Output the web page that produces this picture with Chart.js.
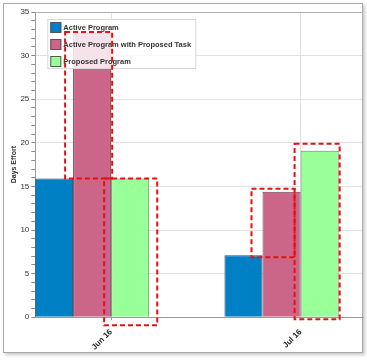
<!DOCTYPE html>
<html>
<head>
<meta charset="utf-8">
<script src="https://cdn.jsdelivr.net/npm/chart.js@4/dist/chart.umd.min.js"></script>
<style>
body { margin: 0; background: #fff; }
#frame { position: absolute; left: 3px; top: 3px; width: 358px; height: 348px; border: 1px solid #a8a8a8; box-shadow: 2px 2px 3px #c8c8c8; }
#wrap { position: absolute; left: 0; top: 0; width: 367px; height: 360px; }
</style>
</head>
<body>
<div id="frame"></div>
<div id="wrap"><canvas id="barChart"></canvas></div>
<script>
// data
const categories = ["Jun 16", "Jul 16"];
const seriesNames = ["Active Program", "Active Program with Proposed Task", "Proposed Program"];
const activeProgram = [15.9, 7.1];
const activeWithTask = [32.6, 14.4];
const proposedProgram = [15.9, 19.1];
const yMax = 35;
const yStep = 5;

// highlighted regions (dataset, category, value range)
const highlights = [
    { ds: 1, i: 0, from: activeProgram[0], to: activeWithTask[0] },
    { ds: 2, i: 0, from: 0, to: proposedProgram[0] },
    { ds: 1, i: 1, from: activeProgram[1], to: activeWithTask[1] },
    { ds: 2, i: 1, from: 0, to: proposedProgram[1] }
];
// hand drawn look: extra px around each box [left, right, top, bottom]
const highlightPad = [[8, 1, 1, 0], [7, 8, 0, 8], [11, -6, 3, 2], [6, 1, 7, 2]];

const colors = ['#0080C4', '#CC6688', '#99FF99'];
const tickShift = 0.1;

const toPoints = arr => arr.map((v, i) => ({ x: i, y: v }));

// legend drawn inside the plot area
const insideLegend = {
    id: 'insideLegend',
    afterDatasetsDraw(chart) {
        const c = chart.ctx;
        const a = chart.chartArea;
        const x0 = a.left + 12, y0 = a.top + 7;
        c.save();
        c.fillStyle = 'rgba(255,255,255,0.82)';
        c.fillRect(x0, y0, 148, 49);
        c.strokeStyle = '#d8d8d8';
        c.lineWidth = 1;
        c.strokeRect(x0 + 0.5, y0 + 0.5, 148, 49);
        c.font = 'bold 7.5px "Liberation Sans", Arial, sans-serif';
        c.textBaseline = 'middle';
        chart.data.datasets.forEach((ds, k) => {
            const cy = y0 + 8 + k * 17;
            c.fillStyle = ds.backgroundColor;
            c.fillRect(x0 + 3, cy - 5, 11, 11);
            c.strokeStyle = '#555';
            c.strokeRect(x0 + 3.5, cy - 4.5, 10, 10);
            c.fillStyle = '#333';
            c.fillText(ds.label, x0 + 16, cy + 0.5);
        });
        c.restore();
    },
    afterDraw(chart) {
        // red dashed highlight boxes
        const c = chart.ctx;
        const y = chart.scales.y;
        c.save();
        c.strokeStyle = '#e81010';
        c.lineWidth = 2;
        c.setLineDash([5, 3]);
        highlights.forEach((h, k) => {
            const p = highlightPad[k];
            const bar = chart.getDatasetMeta(h.ds).data[h.i];
            const left = bar.x - bar.width / 2 - p[0];
            const right = bar.x + bar.width / 2 + p[1];
            const top = y.getPixelForValue(h.to) - p[2];
            const bottom = y.getPixelForValue(h.from) + p[3];
            c.strokeRect(left, top, right - left, bottom - top);
        });
        c.restore();
    }
};

const ctx = document.getElementById('barChart');
new Chart(ctx, {
    type: 'bar',
    data: {
        datasets: [
            { label: seriesNames[0], data: toPoints(activeProgram), backgroundColor: colors[0], borderColor: '#1f4f6f', borderWidth: 1 },
            { label: seriesNames[1], data: toPoints(activeWithTask), backgroundColor: colors[1], borderColor: '#6a4453', borderWidth: 1 },
            { label: seriesNames[2], data: toPoints(proposedProgram), backgroundColor: colors[2], borderColor: '#6b7f6b', borderWidth: 1 }
        ]
    },
    options: {
        responsive: true,
        maintainAspectRatio: false,
        animation: false,
        categoryPercentage: 0.603,
        barPercentage: 1,
        layout: { padding: { top: 12, right: 4, left: 10, bottom: 1 } },
        plugins: {
            legend: { display: false },
            tooltip: { enabled: false }
        },
        scales: {
            x: {
                type: 'linear',
                offset: false,
                min: -0.3,
                max: 1.43,
                afterBuildTicks: axis => {
                    axis.ticks = categories.map((c, i) => ({ value: i + tickShift }));
                },
                ticks: {
                    autoSkip: false,
                    minRotation: 45,
                    maxRotation: 45,
                    padding: 7,
                    color: '#222',
                    font: { family: '"Liberation Sans", Arial, sans-serif', size: 8, weight: 'bold' },
                    callback: v => categories[Math.round(v - tickShift)]
                },
                grid: { offset: false, color: '#e2e2e2', tickLength: 3, tickColor: '#999' },
                border: { color: '#999' }
            },
            y: {
                min: 0,
                max: yMax,
                ticks: {
                    stepSize: 1,
                    autoSkip: false,
                    padding: 2,
                    color: '#333',
                    font: { family: '"Liberation Sans", Arial, sans-serif', size: 8 },
                    callback: v => (v % yStep === 0 ? v : '')
                },
                grid: {
                    color: c => (c.tick && c.tick.value % yStep === 0 ? '#e2e2e2' : 'rgba(0,0,0,0)'),
                    tickColor: '#888',
                    tickLength: 4
                },
                border: { color: '#999' },
                title: {
                    display: true,
                    text: 'Days Effort',
                    color: '#333',
                    padding: { top: 0, bottom: 0 },
                    font: { family: '"Liberation Sans", Arial, sans-serif', size: 7, weight: 'bold' }
                }
            }
        }
    },
    plugins: [insideLegend, {
        id: 'plotFrame',
        afterDatasetsDraw(chart) {
            const a = chart.chartArea;
            const c = chart.ctx;
            c.save();
            c.strokeStyle = '#b0b0b0';
            c.lineWidth = 1;
            c.beginPath();
            c.moveTo(a.left, a.top + 0.5);
            c.lineTo(a.right - 0.5, a.top + 0.5);
            c.lineTo(a.right - 0.5, a.bottom);
            c.stroke();
            c.restore();
        }
    }]
});
</script>
</body>
</html>
